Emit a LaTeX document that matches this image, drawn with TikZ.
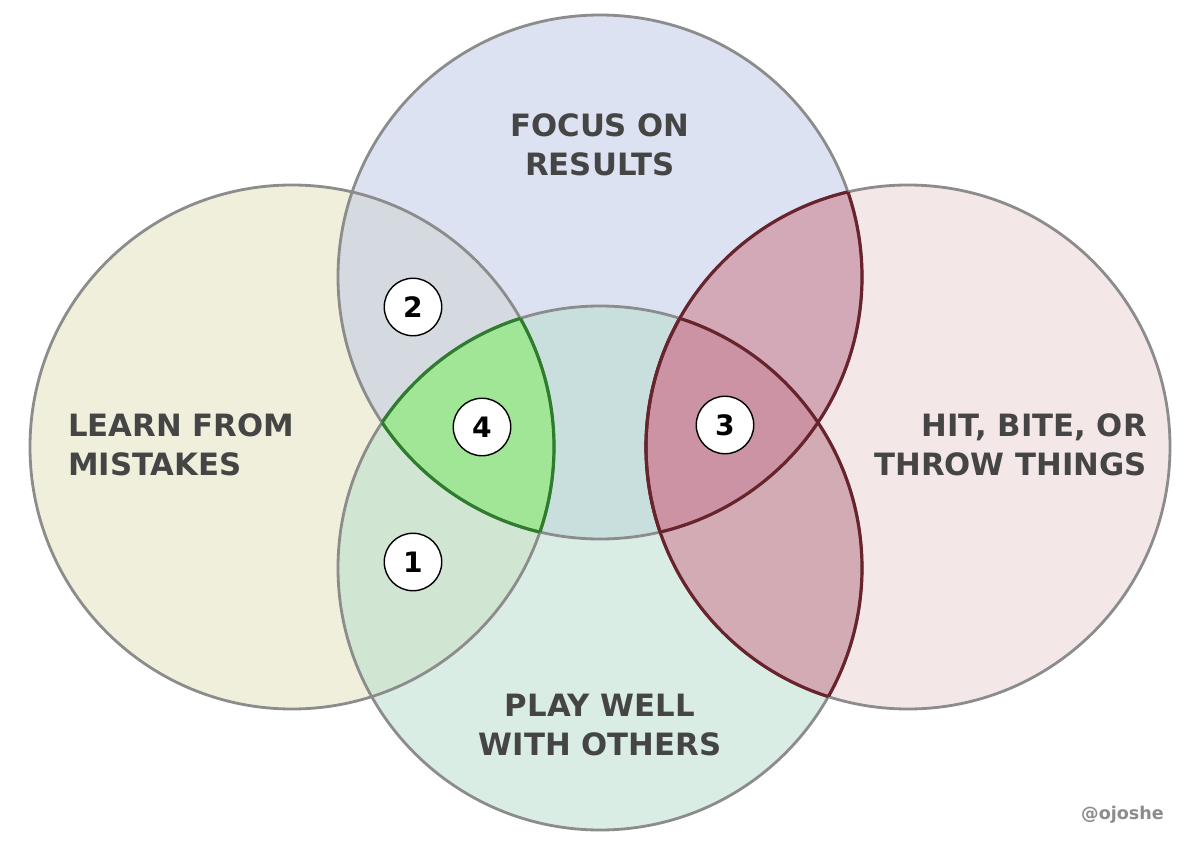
\documentclass[tikz,border=0pt]{standalone}
\usepackage{fontspec}
\setmainfont{DejaVu Sans}
\begin{document}
\begin{tikzpicture}[x=0.02cm,y=-0.02cm,
 circ/.style={draw=black!45,line width=1.6pt},
 num/.style={circle,draw=black,line width=0.8pt,fill=white,minimum size=1.15cm,inner sep=0pt,font=\bfseries\fontsize{16}{18}\selectfont},
 lab/.style={text=black!73,font=\bfseries\fontsize{17.5}{22}\selectfont}]
\definecolor{cl}{RGB}{225,225,185}
\definecolor{ct}{RGB}{187,199,229}
\definecolor{cb}{RGB}{181,221,205}
\definecolor{cr}{RGB}{235,209,209}
\definecolor{gfill}{RGB}{160,230,150}
\definecolor{gdraw}{RGB}{45,125,45}
\definecolor{rfill}{RGB}{200,130,150}
\definecolor{rdraw}{RGB}{105,35,45}
\useasboundingbox (0,0) rectangle (1200,858);
\fill[white] (0,0) rectangle (1200,858);
\def\L{(292,447) circle (262)}
\def\T{(600,277) circle (262)}
\def\B{(600,568) circle (262)}
\def\R{(908,447) circle (262)}
\fill[cl,fill opacity=0.5] \L;
\fill[ct,fill opacity=0.5] \T;
\fill[cb,fill opacity=0.5] \B;
\fill[cr,fill opacity=0.5] \R;
% green region
\begin{scope}\clip \L; \clip \T; \fill[gfill] \B; \end{scope}
% red regions
\begin{scope}\clip \R; \fill[rfill,fill opacity=0.55] \T; \fill[rfill,fill opacity=0.55] \B; \end{scope}
\draw[circ] \L; \draw[circ] \T; \draw[circ] \B; \draw[circ] \R;
\begin{scope}\clip \L; \clip \T; \draw[gdraw,line width=1.8pt] \B; \end{scope}
\begin{scope}\clip \L; \clip \B; \draw[gdraw,line width=1.8pt] \T; \end{scope}
\begin{scope}\clip \B; \clip \T; \draw[gdraw,line width=1.8pt] \L; \end{scope}
\begin{scope}\clip \R; \draw[rdraw,line width=1.8pt] \T; \draw[rdraw,line width=1.8pt] \B; \end{scope}
\begin{scope}\clip \T; \draw[rdraw,line width=1.8pt] \R; \end{scope}
\begin{scope}\clip \B; \draw[rdraw,line width=1.8pt] \R; \end{scope}
\node[num] (n2) at (413,307) {2};
\node[num] (n4) at (482,427) {4};
\node[num] (n1) at (413,562) {1};
\node[num] (n3) at (725,425) {3};
\node[lab,align=center] (top) at (600,145) {FOCUS ON\\RESULTS};
\node[lab,align=left,anchor=west] (left) at (62,445) {LEARN FROM\\MISTAKES};
\node[lab,align=right,anchor=east] (right) at (1153,445) {HIT, BITE, OR\\THROW THINGS};
\node[lab,align=center] (bot) at (600,725) {PLAY WELL\\WITH OTHERS};
\node[anchor=east,text=black!45,font=\bfseries\fontsize{10}{12}\selectfont] (sig) at (1170,815) {@ojoshe};
\end{tikzpicture}
\end{document}
